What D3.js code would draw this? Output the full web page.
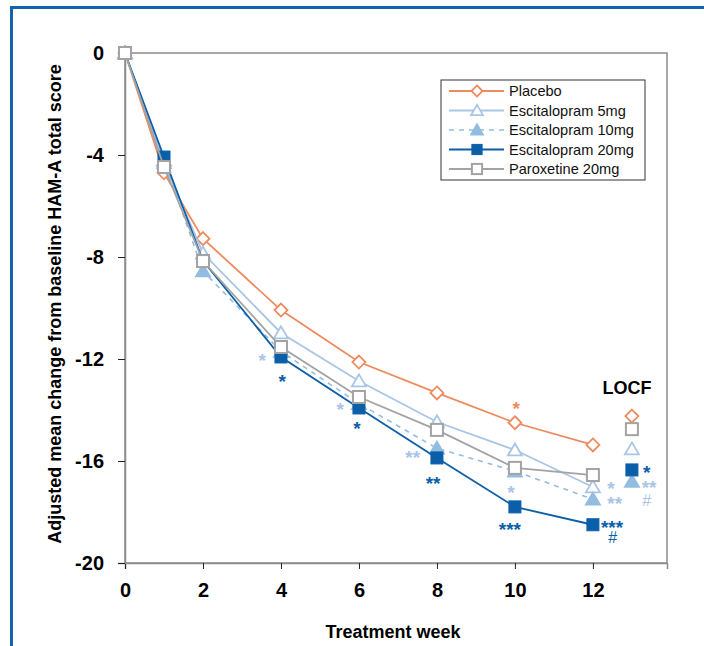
<!DOCTYPE html>
<html><head><meta charset="utf-8">
<script src="https://cdn.jsdelivr.net/npm/d3@7"></script>
<style>body{margin:0;background:#fff}svg{display:block}</style>
</head><body>
<svg id="chart" width="704" height="646"></svg>
<script>
// ---- data ----
const weeks = [0, 1, 2, 4, 6, 8, 10, 12];
const locfWeek = 13;
const xTicks = [0, 2, 4, 6, 8, 10, 12];
const yTicks = [0, -4, -8, -12, -16, -20];

const seriesNames = ["Placebo", "Escitalopram 5mg", "Escitalopram 10mg", "Escitalopram 20mg", "Paroxetine 20mg"];
const placebo   = [0, -4.7, -7.28, -10.08, -12.12, -13.33, -14.5, -15.37];
const esc5      = [0, -4.3, -7.85, -10.98, -12.86, -14.47, -15.57, -17.02];
const esc10     = [0, -4.2, -8.55, -11.7, -13.75, -15.5, -16.4, -17.5];
const esc20     = [0, -4.08, -8.15, -11.92, -13.92, -15.88, -17.8, -18.5];
const paroxetine= [0, -4.47, -8.16, -11.53, -13.49, -14.78, -16.27, -16.55];
const locf      = [-14.24, -15.53, -16.8, -16.35, -14.75];

// significance annotations, grouped in stacks: [week, value, text, series index]
const annotationStacks = [
  [[3.52, -11.85, "*", 1]], [[4.03, -12.67, "*", 3]],
  [[5.52, -13.76, "*", 1]], [[5.95, -14.51, "*", 3]],
  [[7.38, -15.65, "**", 1]], [[7.90, -16.67, "**", 3]],
  [[10.03, -13.73, "*", 0]], [[9.90, -17.02, "*", 1]], [[9.87, -18.47, "***", 3]],
  [[12.46, -16.86, "*", 1], [12.56, -17.45, "**", 1], [12.49, -18.39, "***", 3], [12.51, -18.98, "#", 3]],
  [[13.38, -16.24, "*", 3], [13.44, -16.82, "**", 1], [13.38, -17.53, "#", 1]]
];

// ---- styles ----
const colors = ["#ee8b5e", "#a9c5e6", "#93bde0", "#0b5fa9", "#a3a3a3"];
const symbols = ["diamond", "triOpen", "triFill", "squareFill", "squareOpen"];
const font = "'Liberation Sans', Arial, sans-serif";

const svg = d3.select("#chart");
const x = d3.scaleLinear().domain([0, 13.9]).range([125, 667]);
const y = d3.scaleLinear().domain([-20, 0]).range([563, 53]);

// outer blue frame
svg.append("path").attr("d", "M11.5,646 L11.5,7.5 L704,7.5")
  .attr("fill", "none").attr("stroke", "#1464ad").attr("stroke-width", 3);

// plot box
svg.append("rect").attr("x", x(0)).attr("y", y(0))
  .attr("width", x(13.9) - x(0)).attr("height", y(-20) - y(0))
  .attr("fill", "none").attr("stroke", "#8c8c8c").attr("stroke-width", 1.5);

// axes
const xAxis = d3.axisBottom(x).tickValues(xTicks).tickSize(6).tickPadding(14).tickFormat(d3.format("d"));
const gx = svg.append("g").attr("transform", `translate(0,${y(-20)})`).call(xAxis);
gx.select(".domain").attr("stroke", "#8c8c8c").attr("stroke-width", 1.5);
gx.selectAll(".tick line").attr("stroke", "#222");
gx.selectAll(".tick text").attr("font-family", font).attr("font-weight", "bold")
  .attr("font-size", 20).attr("fill", "#000");

const yAxis = d3.axisLeft(y).tickValues(yTicks).tickSize(7).tickPadding(14).tickFormat(d3.format("d"));
const gy = svg.append("g").attr("transform", `translate(${x(0)},0)`).call(yAxis);
gy.select(".domain").attr("stroke", "#8c8c8c").attr("stroke-width", 1.5);
gy.selectAll(".tick line").attr("stroke", "#222");
gy.selectAll(".tick text").attr("font-family", font).attr("font-weight", "bold")
  .attr("font-size", 20).attr("fill", "#000").text(d => d === 0 ? "0" : "-" + Math.abs(d));

// axis titles
svg.append("text").attr("x", 393).attr("y", 638).attr("text-anchor", "middle")
  .attr("font-family", font).attr("font-weight", "bold").attr("font-size", 18).text("Treatment week");
svg.append("text").attr("transform", "translate(61,304) rotate(-90)").attr("text-anchor", "middle")
  .attr("font-family", font).attr("font-weight", "bold").attr("font-size", 18)
  .text("Adjusted mean change from baseline HAM-A total score");

// marker drawer
function marker(g, type, color, cx, cy, big) {
  const s = big ? 1 : 0.85;
  if (type === "diamond") {
    const r = 6.5 * s;
    g.append("path").attr("d", `M${cx},${cy - r}L${cx + r},${cy}L${cx},${cy + r}L${cx - r},${cy}Z`)
      .attr("fill", "#fff").attr("stroke", color).attr("stroke-width", 1.8);
  } else if (type === "triOpen" || type === "triFill") {
    const w = 7 * s, h = 12 * s;
    g.append("path").attr("d", `M${cx},${cy - h * 0.55}L${cx + w},${cy + h * 0.45}L${cx - w},${cy + h * 0.45}Z`)
      .attr("fill", type === "triFill" ? color : "#fff").attr("stroke", color).attr("stroke-width", 1.8);
  } else {
    const h = 6 * s;
    g.append("rect").attr("x", cx - h).attr("y", cy - h).attr("width", 2 * h).attr("height", 2 * h)
      .attr("fill", type === "squareFill" ? color : "#fff").attr("stroke", color)
      .attr("stroke-width", type === "squareFill" ? 1 : 2);
  }
}

const allSeries = [placebo, esc5, esc10, esc20, paroxetine];
const line = d3.line().x((d, i) => x(weeks[i])).y(d => y(d));
[0, 1, 2, 3, 4].forEach(si => {
  const g = svg.append("g");
  g.append("path").datum(allSeries[si]).attr("d", line).attr("fill", "none")
    .attr("stroke", colors[si]).attr("stroke-width", si === 2 ? 1.6 : 1.8)
    .attr("stroke-dasharray", si === 2 ? "5,5" : null);
  allSeries[si].forEach((v, i) => marker(g, symbols[si], colors[si], x(weeks[i]), y(v), true));
});

// LOCF markers
const gl = svg.append("g");
[0, 4, 1, 2, 3].forEach(si => marker(gl, symbols[si], colors[si], x(locfWeek), y(locf[si]), true));
svg.append("text").attr("x", x(locfWeek) - 5).attr("y", 394).attr("text-anchor", "middle")
  .attr("font-family", font).attr("font-weight", "bold").attr("font-size", 18).text("LOCF");

// annotations: one text per stack, one tspan per symbol group
const at = svg.append("g").selectAll("text").data(annotationStacks).join("text")
  .attr("text-anchor", "middle").attr("font-family", font);
at.selectAll("tspan").data(d => d).join("tspan")
  .attr("x", d => x(d[0]))
  .attr("y", d => y(d[1]) + (d[2] === "#" ? 6 : 11.8))
  .attr("font-weight", d => d[2] === "#" ? "normal" : "bold")
  .attr("font-size", d => d[2] === "#" ? 16 : 19)
  .attr("fill", d => colors[d[3]]).text(d => d[2]);

// legend
const lg = svg.append("g");
lg.append("rect").attr("x", 441).attr("y", 80).attr("width", 204).attr("height", 100)
  .attr("fill", "#fff").attr("stroke", "#333").attr("stroke-width", 1);
seriesNames.forEach((name, i) => {
  const ly = 91 + i * 19.5;
  lg.append("line").attr("x1", 449).attr("x2", 504).attr("y1", ly).attr("y2", ly)
    .attr("stroke", colors[i]).attr("stroke-width", i === 2 ? 1.6 : 1.8)
    .attr("stroke-dasharray", i === 2 ? "5,5" : null);
  marker(lg, symbols[i], colors[i], 477, ly, false);
  lg.append("text").attr("x", 509).attr("y", ly + 5).attr("font-family", font)
    .attr("font-size", 14.6).attr("fill", "#111").text(name);
});
</script>
</body></html>
